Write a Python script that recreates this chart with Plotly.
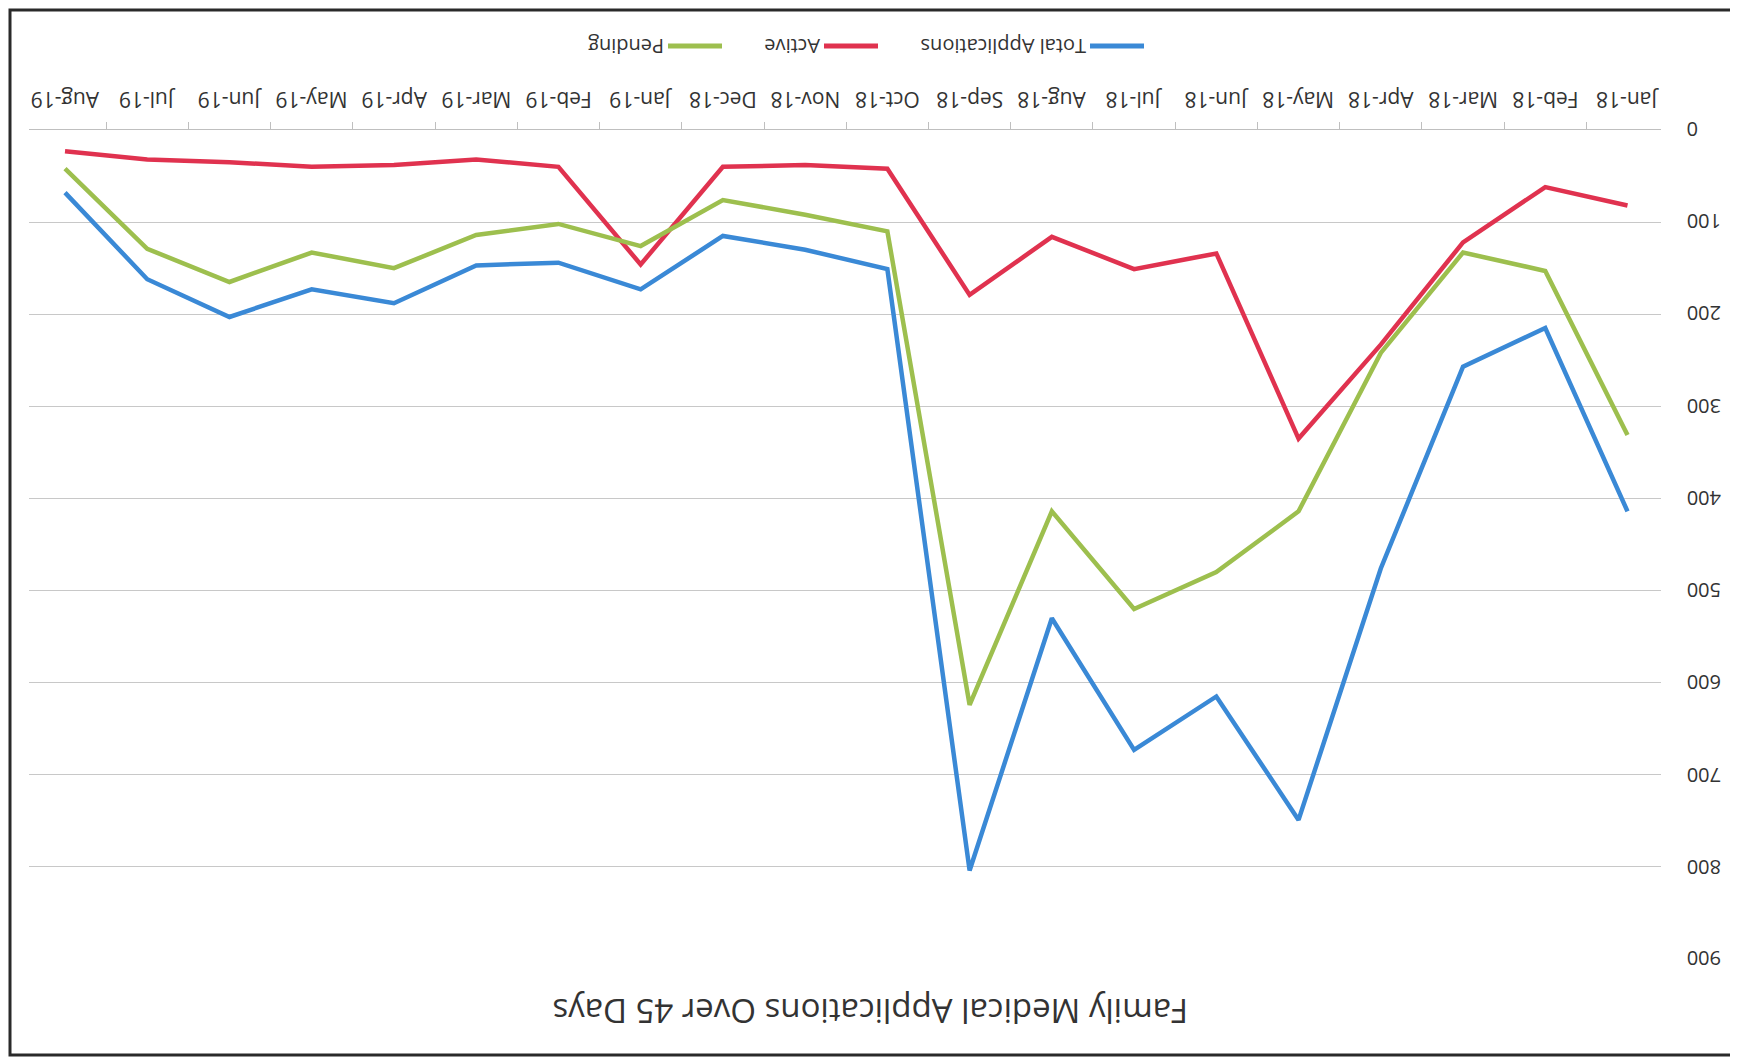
import plotly.graph_objects as go

months = ['Jan-18', 'Feb-18', 'Mar-18', 'Apr-18', 'May-18', 'Jun-18', 'Jul-18', 'Aug-18',
          'Sep-18', 'Oct-18', 'Nov-18', 'Dec-18', 'Jan-19', 'Feb-19', 'Mar-19', 'Apr-19',
          'May-19', 'Jun-19', 'Jul-19', 'Aug-19']
total_apps = [414, 215, 257, 476, 749, 615, 673, 530, 804, 151,
              130, 115, 173, 144, 147, 188, 173, 203, 162, 68]
active = [82, 62, 122, 233, 335, 134, 151, 116, 179, 42,
          38, 40, 146, 40, 32, 38, 40, 35, 32, 23]
pending = [331, 153, 133, 242, 414, 480, 520, 414, 624, 110,
           92, 76, 126, 102, 114, 150, 133, 165, 129, 42]
y_ticks = list(range(0, 1000, 100))

# page body has an 8px margin, so the figure is a bit smaller than the window
OFF = 8
W, H = 1738 - OFF, 1059 - OFF
L, R, T, B = 21, 77, 122, 100
PW, PH = W - L - R, H - T - B

def px(x):
    return (x - OFF - L) / PW

def py(y):
    return (H - B - (y - OFF)) / PH

FONT = 'Open Sans'
TXT = '#333333'

series = [
    ('Total Applications', total_apps, '#3a89d6', 1090),
    ('Active', active, '#e0324f', 824),
    ('Pending', pending, '#9dbf4e', 668),
]

fig = go.Figure()
for name, vals, color, _ in series:
    fig.add_scatter(x=months, y=vals, name=name, mode='lines',
                    line=dict(color=color, width=4.5))

# the scan is upside down: every label is drawn as rotated text
for m in months:
    fig.add_annotation(x=m, y=py(100), xref='x', yref='paper', text=m,
                       showarrow=False, textangle=180, xanchor='center', yanchor='middle',
                       font=dict(family=FONT, size=21, color=TXT))
for v in y_ticks:
    fig.add_annotation(x=px(1685), y=v, xref='paper', yref='y', text=str(v),
                       showarrow=False, textangle=180, xanchor='left', yanchor='middle',
                       font=dict(family=FONT, size=20, color=TXT))

for name, vals, color, lx in series:
    fig.add_shape(type='line', xref='paper', yref='paper',
                  x0=px(lx), x1=px(lx + 54), y0=py(46), y1=py(46),
                  line=dict(color=color, width=5))
    fig.add_annotation(x=px(lx - 2), y=py(46), xref='paper', yref='paper',
                       text=name, showarrow=False, textangle=180,
                       xanchor='right', yanchor='middle',
                       font=dict(family=FONT, size=20, color=TXT))

fig.add_annotation(x=px(870), y=py(1012), xref='paper', yref='paper',
                   text='Family Medical Applications Over 45 Days', showarrow=False,
                   textangle=180, xanchor='center', yanchor='middle',
                   font=dict(family=FONT, size=33, color=TXT))

# scan border (kept just inside the figure so it is not clipped)
fig.add_shape(type='rect', xref='paper', yref='paper',
              x0=px(10), x1=px(1735), y0=py(1055), y1=py(10),
              line=dict(color='#2a2a2a', width=3))

fig.update_xaxes(type='category', categoryorder='array', categoryarray=months,
                 autorange='reversed', side='top', showline=True, linecolor='#bfbfbf',
                 linewidth=1, ticks='outside', tickson='boundaries', ticklen=7,
                 tickcolor='#bfbfbf', showticklabels=False, showgrid=False,
                 automargin=False)
fig.update_yaxes(range=[900, 0], side='right', dtick=100, showticklabels=False,
                 showgrid=True, gridcolor='#c8c8c8', gridwidth=1, zeroline=False,
                 showline=False, ticks='', automargin=False)
fig.update_layout(width=W, height=H, autosize=False, showlegend=False,
                  margin=dict(l=L, r=R, t=T, b=B, autoexpand=False),
                  paper_bgcolor='white', plot_bgcolor='white',
                  font=dict(family=FONT))

fig.write_html('out.html')
